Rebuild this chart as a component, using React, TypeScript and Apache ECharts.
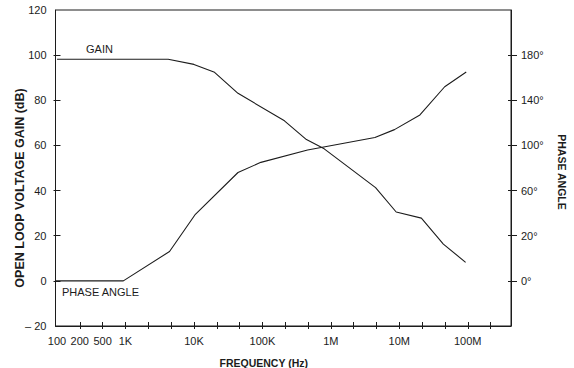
import React, { useEffect, useRef } from "react";
import * as echarts from "echarts";

// Open loop voltage gain (dB) vs frequency (Hz)
const GAIN_FREQ_HZ = [100, 4200, 10000, 20000, 44000, 210000, 440000, 800000, 4.5e6, 9e6, 2.1e7, 4.4e7, 9.3e7];
const GAIN_DB = [98.2, 98.2, 95.9, 92.4, 83.1, 70.9, 62.6, 58.5, 41.3, 30.5, 27.8, 16.3, 8.2];

// Phase angle (degrees) vs frequency (Hz)
const PHASE_FREQ_HZ = [95, 930, 4400, 10500, 44000, 95000, 457000, 4.4e6, 8.5e6, 2e7, 4.6e7, 9.5e7];
const PHASE_DEG = [0, 0, 13, 39, 76, 85, 96, 107, 114, 127, 152, 165];

// Left axis (gain)
const GAIN_MIN = -20;
const GAIN_MAX = 120;
const GAIN_INTERVAL = 20;
const GAIN_TICK_FIRST = 0;
const GAIN_TICK_LAST = 100;

// Right axis (phase) tick labels, as printed on the original, and where they sit on the gain scale
const PHASE_TICK_DEG = [0, 20, 60, 100, 140, 180];
const PHASE_TICK_POS = [0, 20, 40, 60, 80, 100];

// Frequency axis (log10 of Hz); ticks every third of a decade
const FREQ_MIN = 95;
const FREQ_MAX = 4.28e8;
const FREQ_TICK_FIRST_HZ = 215.44;
const FREQ_TICK_LAST_HZ = 2.1544e8;
const FREQ_TICK_STEP_DECADES = 1 / 3;
const FREQ_LABEL_HZ = [100, 215, 464, 1000, 1e4, 1e5, 1e6, 1e7, 1e8];
const FREQ_LABELS = ["100", "200", "500", "1K", "10K", "100K", "1M", "10M", "100M"];

const FONT = "'Liberation Sans', Arial, Helvetica, sans-serif";
const INK = "#1c1c1c";

const W = 574;
const H = 368;
const GRID = { left: 55.5, right: 63, top: 10, bottom: 42 };

// Map a phase angle onto the printed right-hand scale (piecewise, as labelled)
function phaseToAxis(deg: number): number {
  for (let i = 0; i < PHASE_TICK_DEG.length - 1; i++) {
    const d0 = PHASE_TICK_DEG[i], d1 = PHASE_TICK_DEG[i + 1];
    if (deg <= d1 || i === PHASE_TICK_DEG.length - 2) {
      const p0 = PHASE_TICK_POS[i], p1 = PHASE_TICK_POS[i + 1];
      return p0 + ((deg - d0) / (d1 - d0)) * (p1 - p0);
    }
  }
  return deg;
}

function freqLabel(v: number): string {
  let best = 0;
  let bestD = Infinity;
  FREQ_LABEL_HZ.forEach((f, i) => {
    const d = Math.abs(Math.log10(f) - v);
    if (d < bestD) { bestD = d; best = i; }
  });
  return bestD < 0.05 ? FREQ_LABELS[best] : "";
}

function phaseLabel(v: number): string {
  const i = PHASE_TICK_POS.findIndex((p) => Math.abs(p - v) < 0.5);
  return i >= 0 ? PHASE_TICK_DEG[i] + "°" : "";
}

export default function App() {
  const ref = useRef<HTMLDivElement>(null);

  useEffect(() => {
    document.body.style.margin = "0";
    if (!ref.current) return;
    const chart = echarts.init(ref.current, undefined, { renderer: "svg" });

    const xMin = Math.log10(FREQ_MIN);
    const xMax = Math.log10(FREQ_MAX);
    const plotW = W - GRID.left - GRID.right;
    const plotH = H - GRID.top - GRID.bottom;
    const xPx = (v: number) => GRID.left + ((v - xMin) / (xMax - xMin)) * plotW;
    const yPx = (v: number) => GRID.top + ((GAIN_MAX - v) / (GAIN_MAX - GAIN_MIN)) * plotH;

    const tMin = Math.log10(FREQ_TICK_FIRST_HZ);
    const tMax = Math.log10(FREQ_TICK_LAST_HZ);
    // Second grid that spans exactly the ticked range, so that no ticks fall on the frame corners
    const tickGrid = {
      left: xPx(tMin),
      right: W - xPx(tMax),
      top: yPx(GAIN_TICK_LAST),
      bottom: H - yPx(GAIN_TICK_FIRST),
    };
    const xTickOffset = tickGrid.bottom - GRID.bottom;
    const yLeftOffset = tickGrid.left - GRID.left;
    const yRightOffset = tickGrid.right - GRID.right;

    const gainData = GAIN_FREQ_HZ.map((f, i) => [Math.log10(f), GAIN_DB[i]]);
    const phaseData = PHASE_FREQ_HZ.map((f, i) => [Math.log10(f), phaseToAxis(PHASE_DEG[i])]);

    const hiddenLabel = { show: true, formatter: () => " ", color: "rgba(0,0,0,0)", fontSize: 1 };

    const tickX = (inside: boolean, length: number) => ({
      type: "value" as const,
      gridIndex: 1,
      min: tMin,
      max: tMax,
      interval: FREQ_TICK_STEP_DECADES,
      position: "bottom" as const,
      offset: xTickOffset,
      axisLine: { show: true, onZero: false, lineStyle: { color: "rgba(0,0,0,0)" } },
      splitLine: { show: false },
      axisLabel: hiddenLabel,
      axisTick: { show: true, inside, length, lineStyle: { color: INK, width: 1 } },
    });
    const tickY = (position: "left" | "right", inside: boolean, length: number, offset: number) => ({
      type: "value" as const,
      gridIndex: 1,
      min: GAIN_TICK_FIRST,
      max: GAIN_TICK_LAST,
      interval: GAIN_INTERVAL,
      position,
      offset,
      axisLine: { show: true, onZero: false, lineStyle: { color: "rgba(0,0,0,0)" } },
      splitLine: { show: false },
      axisLabel: hiddenLabel,
      axisTick: { show: true, inside, length, lineStyle: { color: INK, width: 1 } },
    });

    chart.setOption({
      animation: false,
      backgroundColor: "#ffffff",
      textStyle: { fontFamily: FONT, color: INK },
      grid: [
        {
          ...GRID,
          containLabel: false,
          outerBoundsMode: "none",
          show: true,
          borderColor: INK,
          borderWidth: 1,
          backgroundColor: "transparent",
        },
        {
          ...tickGrid,
          containLabel: false,
          outerBoundsMode: "none",
          show: false,
        },
      ],
      xAxis: [
        {
          type: "value",
          gridIndex: 0,
          min: xMin,
          max: xMax,
          position: "bottom",
          splitLine: { show: false },
          axisLine: { show: true, onZero: false, lineStyle: { color: INK, width: 1 } },
          axisTick: { show: false },
          name: "FREQUENCY (Hz)",
          nameLocation: "middle",
          nameGap: 31,
          nameMoveOverlap: false,
          nameTextStyle: { fontFamily: FONT, fontWeight: "bold", fontSize: 10.5, color: INK, padding: [0, 39, 0, 0] },
          axisLabel: {
            show: true,
            customValues: FREQ_LABEL_HZ.map((f) => Math.log10(f)),
            margin: 9,
            fontFamily: FONT,
            fontSize: 11,
            color: INK,
            formatter: (v: number) => freqLabel(v),
          },
        },
        tickX(false, 3),
        tickX(true, 4),
      ],
      yAxis: [
        {
          type: "value",
          gridIndex: 0,
          min: GAIN_MIN,
          max: GAIN_MAX,
          interval: GAIN_INTERVAL,
          position: "left",
          splitLine: { show: false },
          name: "OPEN LOOP VOLTAGE GAIN (dB)",
          nameLocation: "middle",
          nameRotate: 90,
          nameGap: 29,
          nameMoveOverlap: false,
          nameTextStyle: { fontFamily: FONT, fontWeight: "bold", fontSize: 12.5, color: INK, padding: [0, 40, 0, 0] },
          axisLine: { show: true, onZero: false, lineStyle: { color: INK, width: 1 } },
          axisTick: { show: false },
          axisLabel: {
            show: true,
            margin: 9,
            fontFamily: FONT,
            fontSize: 11,
            color: INK,
            formatter: (v: number) => (v < 0 ? "– " + Math.abs(v) : String(v)),
          },
        },
        {
          type: "value",
          gridIndex: 0,
          min: GAIN_MIN,
          max: GAIN_MAX,
          interval: GAIN_INTERVAL,
          position: "right",
          splitLine: { show: false },
          name: "PHASE ANGLE",
          nameLocation: "middle",
          nameRotate: -90,
          nameGap: 45,
          nameMoveOverlap: false,
          nameTextStyle: { fontFamily: FONT, fontWeight: "bold", fontSize: 10.5, color: INK, padding: [0, 0, 0, 8] },
          axisLine: { show: true, onZero: false, lineStyle: { color: INK, width: 1 } },
          axisTick: { show: false },
          axisLabel: { show: false },
        },
        {
          ...tickY("right", false, 6, yRightOffset),
          axisLabel: {
            show: true,
            margin: 10,
            fontFamily: FONT,
            fontSize: 11,
            color: INK,
            formatter: (v: number) => phaseLabel(v),
          },
        },
        tickY("right", true, 3, yRightOffset),
        tickY("left", false, 2, yLeftOffset),
        tickY("left", true, 5, yLeftOffset),
      ],
      graphic: [
        {
          type: "text",
          left: 86,
          top: 43,
          style: { text: "GAIN", fontFamily: FONT, fontSize: 11, fill: INK },
        },
        {
          type: "text",
          left: 62,
          top: 286,
          style: { text: "PHASE ANGLE", fontFamily: FONT, fontSize: 11, fill: INK },
        },
      ],
      series: [
        {
          name: "GAIN",
          type: "line",
          xAxisIndex: 0,
          yAxisIndex: 0,
          data: gainData,
          symbol: "none",
          lineStyle: { color: INK, width: 1.1 },
          silent: true,
        },
        {
          name: "PHASE ANGLE",
          type: "line",
          xAxisIndex: 0,
          yAxisIndex: 1,
          data: phaseData,
          symbol: "none",
          lineStyle: { color: INK, width: 1.1 },
          silent: true,
        },
      ],
    });

    return () => chart.dispose();
  }, []);

  return <div ref={ref} style={{ width: 574, height: 368 }} />;
}
